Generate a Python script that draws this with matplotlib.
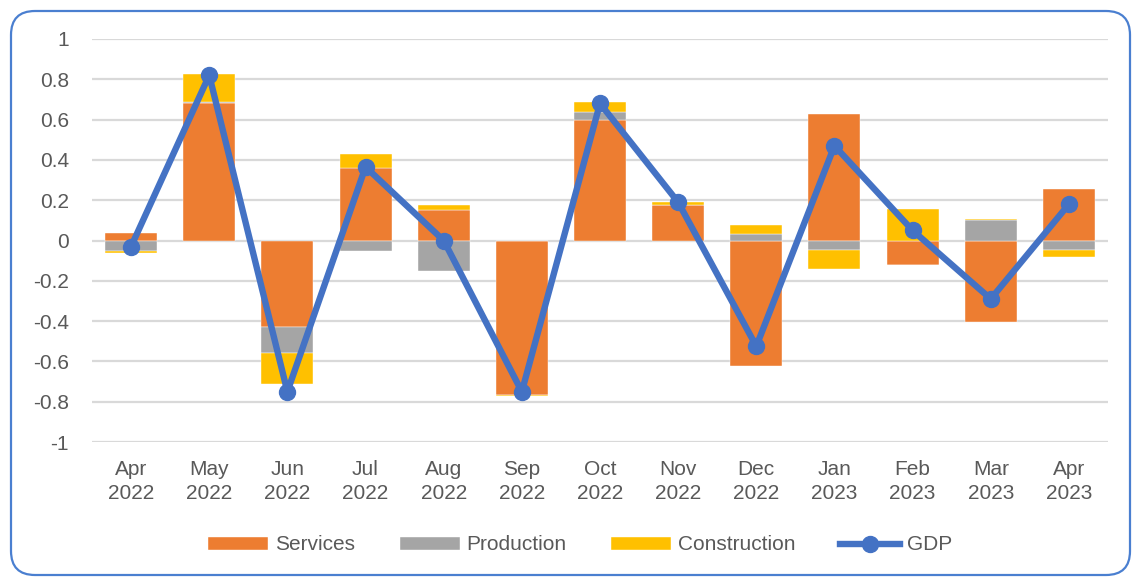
import numpy as np
import matplotlib
matplotlib.use("Agg")
import matplotlib.pyplot as plt
from matplotlib.patches import FancyBboxPatch
from matplotlib.transforms import IdentityTransform

categories = ["Apr\n2022", "May\n2022", "Jun\n2022", "Jul\n2022", "Aug\n2022", "Sep\n2022",
              "Oct\n2022", "Nov\n2022", "Dec\n2022", "Jan\n2023", "Feb\n2023", "Mar\n2023", "Apr\n2023"]
services = [0.035, 0.68, -0.43, 0.36, 0.15, -0.765, 0.60, 0.175, -0.625, 0.63, -0.12, -0.405, 0.255]
production = [-0.05, 0.005, -0.13, -0.05, -0.153, 0.0, 0.04, 0.0, 0.03, -0.045, -0.003, 0.10, -0.046]
construction = [-0.013, 0.14, -0.153, 0.07, 0.025, -0.005, 0.045, 0.015, 0.045, -0.095, 0.155, 0.005, -0.037]
gdp = [-0.03, 0.82, -0.75, 0.365, 0.0, -0.75, 0.68, 0.19, -0.525, 0.47, 0.05, -0.29, 0.18]
yticks = [-1, -0.8, -0.6, -0.4, -0.2, 0, 0.2, 0.4, 0.6, 0.8, 1]
ytick_labels = ["-1", "-0.8", "-0.6", "-0.4", "-0.2", "0", "0.2", "0.4", "0.6", "0.8", "1"]

plt.rcParams['font.family'] = ['Liberation Sans', 'DejaVu Sans']
W, H = 1133, 578
fig = plt.figure(figsize=(W / 100, H / 100), dpi=100)
ax = fig.add_axes([92 / W, 1 - 442 / H, (1108 - 92) / W, (442 - 39) / H])

x = np.arange(len(categories))
pos_bottom = np.zeros(len(x))
neg_bottom = np.zeros(len(x))
series = [("Services", services, "#ED7D31"),
          ("Production", production, "#A5A5A5"),
          ("Construction", construction, "#FFC000")]
handles = []
for name, vals, col in series:
    vals = np.array(vals)
    bottoms = np.where(vals >= 0, pos_bottom, neg_bottom)
    b = ax.bar(x, vals, width=0.665, bottom=bottoms, color=col, label=name,
               edgecolor="white", linewidth=0.3, zorder=2)
    handles.append(b)
    pos_bottom = pos_bottom + np.where(vals >= 0, vals, 0)
    neg_bottom = neg_bottom + np.where(vals < 0, vals, 0)

line, = ax.plot(x, gdp, color="#4472C4", linewidth=4.6, marker="o", markersize=11.5,
                label="GDP", zorder=3, solid_joinstyle="round")
handles.append(line)

ax.set_xlim(-0.5, len(x) - 0.5)
ax.set_ylim(-1, 1)
ax.set_yticks(yticks)
ax.set_yticklabels(ytick_labels)
ax.set_xticks(x)
ax.set_xticklabels(categories, linespacing=1.3)
ax.grid(axis="y", color="#D9D9D9", linewidth=1.6, zorder=0)
ax.set_axisbelow(True)
for s in ax.spines.values():
    s.set_visible(False)
ax.tick_params(axis="y", length=0, pad=16.5, labelsize=15, labelcolor="#595959")
ax.tick_params(axis="x", length=0, pad=13, labelsize=15, labelcolor="#595959")

labels = [h.get_label() for h in handles]
fig.legend(handles, labels, loc="center", bbox_to_anchor=(580 / W, 1 - 545 / H),
           ncol=4, frameon=False, fontsize=15, handlelength=2.9, handleheight=0.6,
           handletextpad=0.3, columnspacing=2.15, labelcolor="#595959")

border = FancyBboxPatch((11, 3), 1119, 564, boxstyle="round,pad=0,rounding_size=24",
                        transform=IdentityTransform(), facecolor="none",
                        edgecolor="#4A7FD0", linewidth=1.6)
fig.patches.append(border)

fig.savefig("out.png", dpi=100)
